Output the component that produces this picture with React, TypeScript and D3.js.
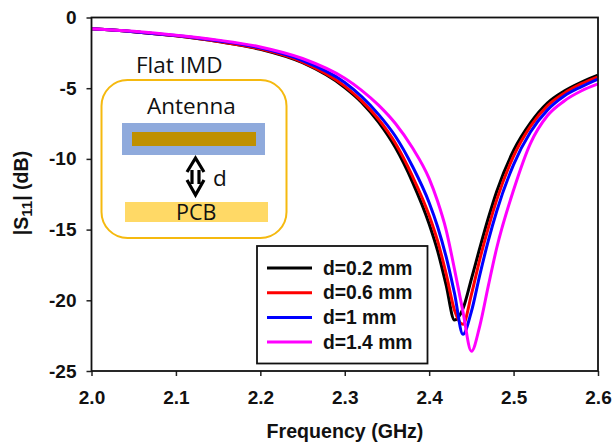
import React, { useRef, useEffect } from "react";
import * as d3 from "d3";

const freqs = [2.0, 2.05, 2.1, 2.15, 2.2, 2.25, 2.3, 2.32, 2.34, 2.36, 2.38, 2.4, 2.41, 2.42, 2.43, 2.44, 2.45, 2.46, 2.47, 2.48, 2.5, 2.52, 2.54, 2.56, 2.58, 2.6];
const d02 = [-0.8, -1.0, -1.3, -1.7, -2.25, -3.2, -4.95, -6.0, -7.4, -9.2, -11.6, -14.6, -16.5, -18.9, -21.4, -20.6, -18.5, -16.3, -14.2, -12.3, -9.4, -7.45, -6.05, -5.2, -4.58, -4.08];
const d06 = [-0.8, -1.0, -1.3, -1.7, -2.22, -3.15, -4.85, -5.9, -7.2, -8.9, -11.2, -14.0, -15.8, -18.1, -20.7, -21.7, -19.6, -17.1, -14.9, -12.9, -9.8, -7.7, -6.25, -5.35, -4.7, -4.2];
const d10 = [-0.8, -1.0, -1.28, -1.65, -2.15, -3.05, -4.6, -5.6, -6.85, -8.4, -10.5, -13.1, -14.8, -16.9, -19.5, -22.4, -20.8, -18.2, -15.8, -13.7, -10.4, -8.1, -6.55, -5.55, -4.9, -4.35];
const d14 = [-0.8, -0.98, -1.25, -1.6, -2.08, -2.9, -4.3, -5.15, -6.2, -7.5, -9.2, -11.4, -13.0, -15.0, -17.8, -20.8, -23.6, -21.8, -19.0, -16.3, -12.2, -8.9, -6.95, -5.9, -5.2, -4.7];

const seriesNames = ["d=0.2 mm", "d=0.6 mm", "d=1 mm", "d=1.4 mm"];
const seriesValues = [d02, d06, d10, d14];
const seriesColors = ["#000000", "#ff0000", "#0000ff", "#ff00ff"];
const xTicks = [2.0, 2.1, 2.2, 2.3, 2.4, 2.5, 2.6];
const yTicks = [0, -5, -10, -15, -20, -25];

const labelFont = "'Liberation Sans', Arial, sans-serif";
const insetFont = "'Open Sans', sans-serif";

const App = () => {
  const chartRef = useRef<SVGSVGElement>(null);

  useEffect(() => {
    const svg = d3.select(chartRef.current);
    svg.selectAll("*").remove();

    const x = d3.scaleLinear().domain([2.0, 2.6]).range([91.5, 598]);
    const y = d3.scaleLinear().domain([0, -25]).range([17.5, 371]);

    const xAxis = svg.append("g")
      .attr("transform", "translate(0,371)")
      .call(d3.axisBottom(x).tickValues(xTicks).tickFormat((d) => d3.format(".1f")(d as number)).tickSize(5).tickSizeOuter(0).tickPadding(15));
    const yAxis = svg.append("g")
      .attr("transform", "translate(91.5,0)")
      .call(d3.axisLeft(y).tickValues(yTicks).tickFormat((d) => String(d)).tickSize(5).tickSizeOuter(0).tickPadding(10));

    [xAxis, yAxis].forEach((axis) => {
      axis.select(".domain").remove();
      axis.selectAll("line").attr("stroke", "#222").attr("stroke-width", 1.5);
      axis.selectAll("text")
        .attr("fill", "#111")
        .style("font-family", labelFont)
        .style("font-weight", "bold")
        .style("font-size", "19px");
    });

    // curves
    const line = d3.line<number>()
      .x((_, i) => x(freqs[i]))
      .y((d) => y(d))
      .curve(d3.curveMonotoneX);

    svg.append("g")
      .selectAll("path")
      .data(seriesValues)
      .enter()
      .append("path")
      .attr("d", (d) => line(d))
      .attr("fill", "none")
      .attr("stroke", (_, i) => seriesColors[i])
      .attr("stroke-width", 3);

    // plot frame
    svg.append("rect")
      .attr("x", 91.5)
      .attr("y", 17.5)
      .attr("width", 506.5)
      .attr("height", 353.5)
      .attr("fill", "none")
      .attr("stroke", "#111")
      .attr("stroke-width", 1.8);

    // axis titles
    svg.append("text")
      .attr("x", 345)
      .attr("y", 438)
      .attr("text-anchor", "middle")
      .style("font-family", labelFont)
      .style("font-weight", "bold")
      .style("font-size", "19.6px")
      .attr("fill", "#111")
      .text("Frequency (GHz)");

    const yTitle = svg.append("text")
      .attr("transform", "translate(28,193) rotate(-90)")
      .attr("text-anchor", "middle")
      .style("font-family", labelFont)
      .style("font-weight", "bold")
      .style("font-size", "19.6px")
      .attr("fill", "#111");
    yTitle.append("tspan").text("|S");
    yTitle.append("tspan").attr("dy", 4).style("font-size", "15px").text("11");
    yTitle.append("tspan").attr("dy", -4).text("| (dB)");

    // legend
    const legend = svg.append("g");
    legend.append("rect")
      .attr("x", 257)
      .attr("y", 246)
      .attr("width", 170.5)
      .attr("height", 117.5)
      .attr("fill", "#fff")
      .attr("stroke", "#111")
      .attr("stroke-width", 1.8);
    const rows = legend.selectAll("g")
      .data(seriesNames)
      .enter()
      .append("g")
      .attr("transform", (_, i) => `translate(0,${268 + i * 24.7})`);
    rows.append("line")
      .attr("x1", 267)
      .attr("x2", 312)
      .attr("stroke", (_, i) => seriesColors[i])
      .attr("stroke-width", 3);
    rows.append("text")
      .attr("x", 323)
      .attr("y", 6.5)
      .style("font-family", labelFont)
      .style("font-weight", "bold")
      .style("font-size", "19.3px")
      .attr("fill", "#111")
      .text((d) => d);

    // inset sketch
    const inset = svg.append("g");
    inset.append("rect")
      .attr("x", 101.5)
      .attr("y", 80)
      .attr("width", 185)
      .attr("height", 158)
      .attr("rx", 26)
      .attr("fill", "#fff")
      .attr("stroke", "#f5b90f")
      .attr("stroke-width", 2);
    inset.append("rect").attr("x", 122).attr("y", 123).attr("width", 143).attr("height", 32).attr("fill", "#8faadc");
    inset.append("rect").attr("x", 132).attr("y", 132).attr("width", 124).attr("height", 14).attr("fill", "#bf9000");
    inset.append("rect").attr("x", 125).attr("y", 202).attr("width", 143).attr("height", 20).attr("fill", "#ffd966");
    inset.append("path")
      .attr("d", "M187,172 L195.5,158 L204,172 M192,170 L192,184 M199,170 L199,184 M187,180 L195.5,195 L204,180")
      .attr("fill", "none")
      .attr("stroke", "#000")
      .attr("stroke-width", 3.2);

    const insetTexts = [
      { t: "Flat IMD", x: 136, y: 73, s: 22.5 },
      { t: "Antenna", x: 147, y: 114, s: 22.5 },
      { t: "d", x: 213, y: 186, s: 22.5 },
      { t: "PCB", x: 176, y: 220, s: 21.5 },
    ];
    inset.selectAll("text")
      .data(insetTexts)
      .enter()
      .append("text")
      .attr("x", (d) => d.x)
      .attr("y", (d) => d.y)
      .style("font-family", insetFont)
      .style("font-size", (d) => `${d.s}px`)
      .attr("fill", "#111")
      .text((d) => d.t);
  }, []);

  return (
    <svg
      ref={chartRef}
      width={613}
      height={446}
      style={{ position: "absolute", left: 0, top: 0, background: "#fff" }}
    />
  );
};

export default App;
